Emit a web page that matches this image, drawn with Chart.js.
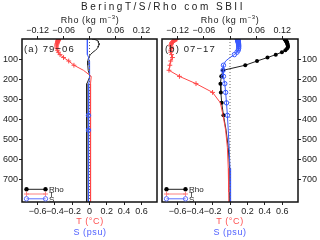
<!DOCTYPE html>
<html>
<head>
<meta charset="utf-8">
<script src="https://cdn.jsdelivr.net/npm/chart.js"></script>
<style>
  body { margin: 0; background: #fff; }
  #wrap { position: relative; width: 320px; height: 240px; overflow: hidden; font-family: "Liberation Sans", Arial, sans-serif; color: #222; }
  canvas { position: absolute; left: 0; top: 0; }
  .lbl { position: absolute; width: 160px; text-align: center; white-space: nowrap; }
  .title { font-size: 10px; letter-spacing: 2.5px; line-height: 12px; }
  .axt { font-size: 9px; letter-spacing: 0.6px; line-height: 11px; }
  .axt sup { font-size: 6px; vertical-align: 4px; line-height: 0; }
  .pan { position: absolute; font-size: 9.5px; letter-spacing: 1.1px; line-height: 11px; white-space: nowrap; }
</style>
</head>
<body>
<div id="wrap">
  <canvas id="cA" width="320" height="240"></canvas>
  <canvas id="cB" width="320" height="240"></canvas>
  <div class="lbl title" style="left:81px;top:1px;">BeringT/S/Rho com SBII</div>
  <div class="lbl axt" style="left:10px;top:15px;">Rho (kg m<sup>−3</sup>)</div>
  <div class="lbl axt" style="left:150px;top:15px;">Rho (kg m<sup>−3</sup>)</div>
  <div class="pan" style="left:24px;top:43px;">(a) 79−06</div>
  <div class="pan" style="left:165px;top:43px;">(b) 07−17</div>
  <div class="lbl axt" style="left:10px;top:216px;color:#ff5050;">T (°C)</div>
  <div class="lbl axt" style="left:10px;top:227px;color:#5060ff;">S (psu)</div>
  <div class="lbl axt" style="left:150px;top:216px;color:#ff5050;">T (°C)</div>
  <div class="lbl axt" style="left:150px;top:227px;color:#5060ff;">S (psu)</div>
</div>
<script>
// model depth levels (m)
var depth = [0.494, 1.541, 2.646, 3.819, 5.078, 6.441, 7.930, 9.573, 11.405, 13.467,
             15.810, 18.496, 21.599, 25.211, 29.445, 34.434, 40.344, 47.374, 55.764, 65.807,
             77.854, 92.326, 109.729, 130.666, 155.851, 186.126, 222.475, 266.040, 318.127, 380.213,
             453.938, 541.089, 643.567, 763.333, 902.339];

// (a) 79-06
var rhoA = [0.006, 0.009, 0.012, 0.014, 0.016, 0.017, 0.018, 0.019, 0.020, 0.020,
            0.021, 0.021, 0.022, 0.022, 0.022, 0.021, 0.020, 0.018, 0.014, 0.008,
            0.002, -0.002, -0.004, -0.004, -0.003, 0.001, -0.006, -0.007, -0.007, -0.007,
            -0.007, -0.006, -0.006, -0.006, -0.006];
var tA   = [-0.36, -0.36, -0.36, -0.36, -0.36, -0.36, -0.365, -0.365, -0.365, -0.37,
            -0.37, -0.37, -0.375, -0.375, -0.38, -0.38, -0.38, -0.375, -0.37, -0.36,
            -0.34, -0.30, -0.24, -0.18, -0.07, 0.02, 0.012, 0.008, 0.008, 0.01,
            0.012, 0.014, 0.015, 0.015, 0.015];
var sA   = [-0.025, -0.025, -0.025, -0.025, -0.025, -0.025, -0.025, -0.025, -0.025, -0.025,
            -0.025, -0.025, -0.025, -0.025, -0.025, -0.025, -0.025, -0.025, -0.024, -0.022,
            -0.018, -0.010, -0.004, 0.000, 0.002, 0.000, -0.007, -0.010, -0.011, -0.012,
            -0.012, -0.012, -0.012, -0.012, -0.012];
// significant levels (1 = marker drawn)
var sigRhoA = [0,0,0,0,0,0,0,0,0,0, 0,0,0,0,0,0,0,0,0,0, 0,0,0,0,0,0,0,0,0,0, 0,0,0,0,0];
var sigTA   = [1,1,1,1,1,1,1,1,1,1, 1,1,1,1,1,1,1,1,1,1, 1,1,1,1,0,0,0,0,0,0, 0,0,0,0,0];
var sigSA   = [0,0,0,0,0,0,0,0,0,0, 0,0,0,0,0,0,0,0,0,0, 0,0,0,0,0,0,0,0,0,1, 1,0,0,0,0];

// (b) 07-17
var rhoB = [0.125, 0.126, 0.126, 0.127, 0.127, 0.128, 0.128, 0.129, 0.129, 0.130,
            0.130, 0.131, 0.131, 0.132, 0.132, 0.133, 0.133, 0.131, 0.127, 0.119,
            0.105, 0.086, 0.062, 0.035, -0.016, -0.020, -0.022, -0.021, -0.019, -0.015,
            -0.009, -0.004, -0.001, 0.000, 0.000];
var tB   = [-0.61, -0.62, -0.62, -0.63, -0.63, -0.64, -0.64, -0.65, -0.65, -0.66,
            -0.66, -0.67, -0.67, -0.67, -0.68, -0.68, -0.67, -0.67, -0.68, -0.68,
            -0.67, -0.66, -0.68, -0.69, -0.70, -0.58, -0.39, -0.20, -0.11, -0.08,
            -0.05, -0.03, -0.02, -0.015, -0.01];
var sB   = [0.085, 0.086, 0.087, 0.088, 0.089, 0.090, 0.091, 0.092, 0.093, 0.094,
            0.095, 0.096, 0.097, 0.098, 0.099, 0.100, 0.100, 0.099, 0.095, 0.080,
            0.050, 0.000, -0.050, -0.075, -0.080, -0.075, -0.060, -0.050, -0.040, -0.030,
            -0.020, -0.010, 0.000, 0.005, 0.008];
var sigRhoB = [1,1,1,1,1,1,1,1,1,1, 1,1,1,1,1,1,1,1,1,1, 1,1,1,1,1,1,1,1,1,1, 0,0,0,0,0];
var sigTB   = [1,1,1,1,1,1,1,1,1,1, 1,1,1,1,1,1,1,1,1,1, 1,1,1,1,1,1,1,1,0,0, 0,0,0,0,0];
var sigSB   = [1,1,1,1,1,1,1,1,1,1, 1,1,1,1,1,1,1,1,1,1, 1,0,0,1,1,1,1,1,1,1, 0,0,0,0,0];

var zeroLine = [0, 0];
var zeroDepth = [0, 900];

var depthTicks = [100, 200, 300, 400, 500, 600, 700];
var tsTicks = [-0.6, -0.4, -0.2, 0, 0.2, 0.4, 0.6];
var rhoTicks = [-0.12, -0.06, 0, 0.06, 0.12];

var RED = '#ff4646';
var BLUE = '#3a5aff';
var tickFont = { family: '"Liberation Sans", Arial, sans-serif', size: 9 };

function pts(xs, ys) {
    return xs.map(function (v, i) { return { x: v, y: ys[i] }; });
}
function radii(sig, r) {
    return sig.map(function (f) { return f ? r : 0; });
}
function minus(v) {
    return String(v).replace('-', '\u2212');
}

var framePlugin = {
    id: 'frame',
    afterDraw: function (chart) {
        var a = chart.chartArea, ctx = chart.ctx;
        ctx.save();
        ctx.strokeStyle = '#111';
        ctx.lineWidth = 1.5;
        ctx.strokeRect(a.left, a.top, a.right - a.left, a.bottom - a.top);
        ctx.restore();
    }
};

var legendPlugin = {
    id: 'profLegend',
    afterDraw: function (chart) {
        var a = chart.chartArea, ctx = chart.ctx;
        var x0 = a.left + 4.5, x1 = a.left + 23.5;
        var rows = [
            { text: 'Rho', color: '#222', mark: 'dot', y: a.bottom - 12.7 },
            { text: 'T', color: '#ff8080', mark: 'cross', y: a.bottom - 8 },
            { text: 'S', color: '#6070ff', mark: 'ring', y: a.bottom - 3.2 }
        ];
        ctx.save();
        rows.forEach(function (r) {
            ctx.strokeStyle = r.color;
            ctx.fillStyle = r.color;
            ctx.lineWidth = 1;
            ctx.beginPath();
            ctx.moveTo(x0, r.y);
            ctx.lineTo(x1, r.y);
            ctx.stroke();
            [x0, x1].forEach(function (x) {
                ctx.beginPath();
                if (r.mark === 'dot') {
                    ctx.fillStyle = '#000';
                    ctx.arc(x, r.y, 2.2, 0, Math.PI * 2);
                    ctx.fill();
                } else if (r.mark === 'ring') {
                    ctx.arc(x, r.y, 2.2, 0, Math.PI * 2);
                    ctx.stroke();
                } else {
                    ctx.moveTo(x - 2.5, r.y); ctx.lineTo(x + 2.5, r.y);
                    ctx.moveTo(x, r.y - 2.5); ctx.lineTo(x, r.y + 2.5);
                    ctx.stroke();
                }
            });
            ctx.fillStyle = '#222';
            ctx.font = '8px "Liberation Sans", Arial, sans-serif';
            ctx.textBaseline = 'middle';
            ctx.fillText(r.text, x1 + 3.5, r.y + 0.5);
        });
        ctx.restore();
    }
};

function makePanel(id, side, rho, t, s, sigR, sigT, sigS) {
    var padL = side === 'left' ? 0 : 162;
    var padR = side === 'left' ? 163 : 0;
    return new Chart(document.getElementById(id), {
        type: 'line',
        data: {
            datasets: [
                {
                    label: 'zero',
                    data: pts(zeroLine, zeroDepth),
                    xAxisID: 'xT',
                    borderColor: '#666',
                    borderWidth: 1,
                    borderDash: [1, 2],
                    pointRadius: 0
                },
                {
                    label: 'S',
                    data: pts(s, depth),
                    xAxisID: 'xT',
                    borderColor: BLUE,
                    borderWidth: 1,
                    pointStyle: 'circle',
                    pointRadius: radii(sigS, 2.2),
                    pointBorderColor: BLUE,
                    pointBackgroundColor: 'rgba(255,255,255,0)',
                    pointBorderWidth: 1
                },
                {
                    label: 'T',
                    data: pts(t, depth),
                    xAxisID: 'xT',
                    borderColor: RED,
                    borderWidth: 1,
                    pointStyle: 'cross',
                    pointRadius: radii(sigT, 2.4),
                    pointBorderColor: RED,
                    pointBorderWidth: 1
                },
                {
                    label: 'Rho',
                    data: pts(rho, depth),
                    xAxisID: 'xR',
                    borderColor: '#222',
                    borderWidth: 1,
                    pointStyle: 'circle',
                    pointRadius: radii(sigR, 2.0),
                    pointBorderColor: '#000',
                    pointBackgroundColor: '#000',
                    pointBorderWidth: 0
                }
            ]
        },
        options: {
            responsive: false,
            animation: false,
            layout: { autoPadding: false, padding: { left: padL, right: padR, top: 0, bottom: 0 } },
            plugins: {
                legend: { display: false },
                tooltip: { enabled: false }
            },
            scales: {
                y: {
                    type: 'linear',
                    position: side,
                    reverse: true,
                    min: 0,
                    max: 812,
                    afterBuildTicks: function (sc) { sc.ticks = depthTicks.map(function (v) { return { value: v }; }); },
                    afterFit: function (sc) { sc.width = 22; },
                    ticks: { font: tickFont, color: '#222', padding: 1, autoSkip: false },
                    grid: { drawOnChartArea: false, tickLength: 3, color: '#222' },
                    border: { display: false }
                },
                xT: {
                    type: 'linear',
                    position: 'bottom',
                    min: -0.78,
                    max: 0.78,
                    afterBuildTicks: function (sc) { sc.ticks = tsTicks.map(function (v) { return { value: v }; }); },
                    afterFit: function (sc) { sc.height = 38; },
                    ticks: { font: tickFont, color: '#222', padding: 1, autoSkip: false, maxRotation: 0, callback: minus },
                    grid: { drawOnChartArea: false, tickLength: 3, color: '#222' },
                    border: { display: false }
                },
                xR: {
                    type: 'linear',
                    position: 'top',
                    min: -0.156,
                    max: 0.156,
                    afterBuildTicks: function (sc) { sc.ticks = rhoTicks.map(function (v) { return { value: v }; }); },
                    afterFit: function (sc) { sc.height = 39; },
                    ticks: { font: tickFont, color: '#222', padding: 0, autoSkip: false, maxRotation: 0, callback: minus },
                    grid: { drawOnChartArea: false, tickLength: 3, color: '#222' },
                    border: { display: false }
                }
            }
        },
        plugins: [framePlugin, legendPlugin]
    });
}

makePanel('cA', 'left', rhoA, tA, sA, sigRhoA, sigTA, sigSA);
makePanel('cB', 'right', rhoB, tB, sB, sigRhoB, sigTB, sigSB);
</script>
</body>
</html>
